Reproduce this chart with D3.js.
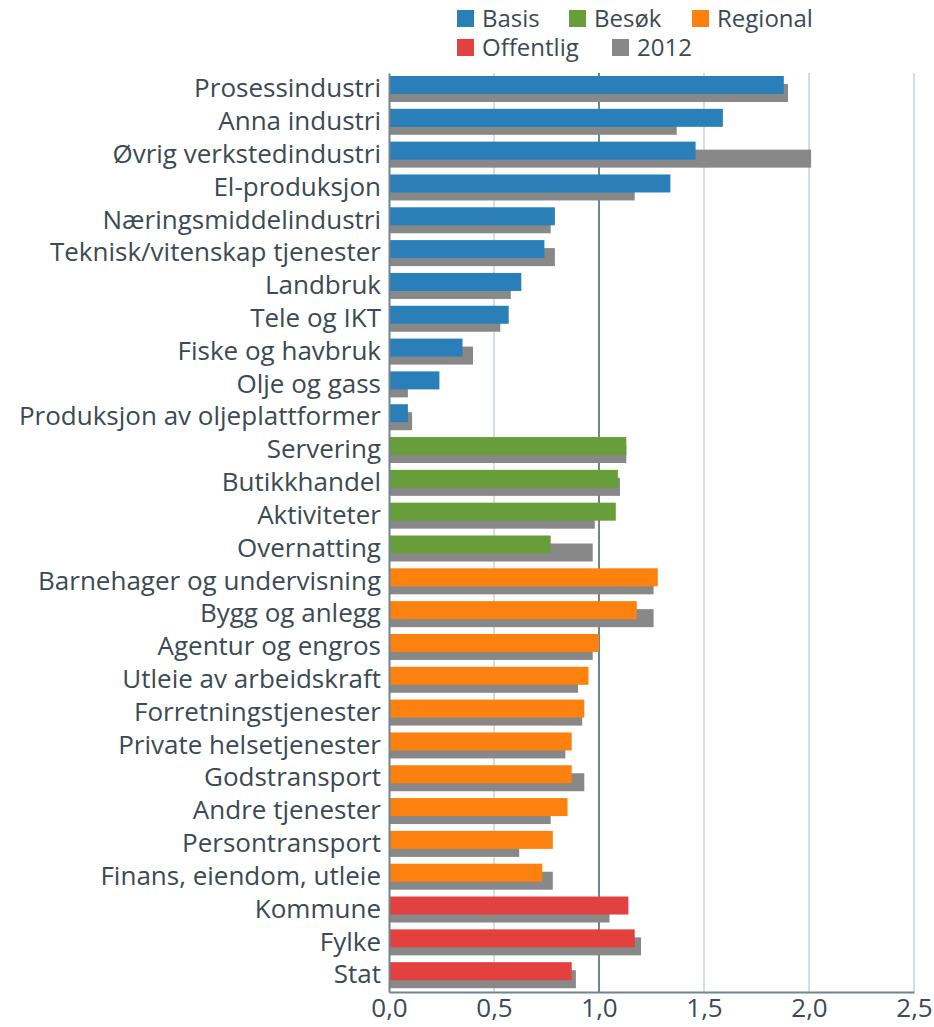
<!DOCTYPE html>
<html>
<head>
<meta charset="utf-8">
<script src="https://cdn.jsdelivr.net/npm/d3@7"></script>
<style>
  body { margin: 0; background: #fff; }
  svg { font-family: "Open Sans", sans-serif; }
</style>
</head>
<body>
<div id="chart"></div>
<script>
var categories = ["Prosessindustri", "Anna industri", "Øvrig verkstedindustri", "El-produksjon",
    "Næringsmiddelindustri", "Teknisk/vitenskap tjenester", "Landbruk", "Tele og IKT",
    "Fiske og havbruk", "Olje og gass", "Produksjon av oljeplattformer",
    "Servering", "Butikkhandel", "Aktiviteter", "Overnatting",
    "Barnehager og undervisning", "Bygg og anlegg", "Agentur og engros", "Utleie av arbeidskraft",
    "Forretningstjenester", "Private helsetjenester", "Godstransport", "Andre tjenester",
    "Persontransport", "Finans, eiendom, utleie",
    "Kommune", "Fylke", "Stat"];
var groups = ["Basis", "Basis", "Basis", "Basis", "Basis", "Basis", "Basis", "Basis", "Basis", "Basis", "Basis",
    "Besøk", "Besøk", "Besøk", "Besøk",
    "Regional", "Regional", "Regional", "Regional", "Regional", "Regional", "Regional", "Regional", "Regional", "Regional",
    "Offentlig", "Offentlig", "Offentlig"];
var values = [1.88, 1.59, 1.46, 1.34, 0.79, 0.74, 0.63, 0.57, 0.35, 0.24, 0.09,
    1.13, 1.09, 1.08, 0.77,
    1.28, 1.18, 1.00, 0.95, 0.93, 0.87, 0.87, 0.85, 0.78, 0.73,
    1.14, 1.17, 0.87];
var values2012 = [1.90, 1.37, 2.01, 1.17, 0.77, 0.79, 0.58, 0.53, 0.40, 0.09, 0.11,
    1.13, 1.10, 0.98, 0.97,
    1.26, 1.26, 0.97, 0.90, 0.92, 0.84, 0.93, 0.77, 0.62, 0.78,
    1.05, 1.20, 0.89];
var legendNames = ["Basis", "Besøk", "Regional", "Offentlig", "2012"];
var xTicks = [0, 0.5, 1, 1.5, 2, 2.5];

var colors = { "Basis": "#2a7fb8", "Besøk": "#679e3a", "Regional": "#fd810f", "Offentlig": "#e34040", "2012": "#888888" };
var textColor = "#3b4a53";
var fontSize = 26;

var W = 934, H = 1027;
var svg = d3.select("#chart").append("svg").attr("width", W).attr("height", H);

var x = d3.scaleLinear().domain([0, 2.5]).range([389, 914]);
var y = d3.scaleBand().domain(categories).range([73, 992]).padding(0);

// gridlines
svg.append("g").selectAll("line").data(xTicks.slice(1))
    .enter().append("line")
    .attr("x1", d => x(d)).attr("x2", d => x(d))
    .attr("y1", 73).attr("y2", 992)
    .attr("stroke", d => d === 1 ? "#6f8592" : "#c6d2da")
    .attr("stroke-width", d => d === 1 ? 2 : 1.5);

var rows = categories.map((c, i) => ({ name: c, group: groups[i], v: values[i], v0: values2012[i] }));

var plot = svg.append("g");
plot.selectAll("rect.y2012").data(rows).enter().append("rect")
    .attr("class", "y2012")
    .attr("x", x(0))
    .attr("y", d => y(d.name) + 11)
    .attr("width", d => x(d.v0) - x(0))
    .attr("height", 18)
    .attr("fill", colors["2012"]);
plot.selectAll("rect.cur").data(rows).enter().append("rect")
    .attr("class", "cur")
    .attr("x", x(0))
    .attr("y", d => y(d.name) + 3)
    .attr("width", d => x(d.v) - x(0))
    .attr("height", 18)
    .attr("fill", d => colors[d.group]);

// axes
var yAxis = d3.axisLeft(y).tickSize(0).tickPadding(8);
var yg = svg.append("g").attr("transform", `translate(${x(0)},0)`).call(yAxis);
yg.select(".domain").attr("stroke", "#6f8592").attr("stroke-width", 2);
yg.selectAll("text").attr("font-size", fontSize).attr("fill", textColor)
    .attr("font-family", "'Open Sans', sans-serif").attr("dy", "0.3em");

var xAxis = d3.axisBottom(x).tickValues(xTicks).tickSize(0).tickPadding(7)
    .tickFormat(d => d3.format(".1f")(d).replace(".", ","));
var xg = svg.append("g").attr("transform", "translate(0,992)").call(xAxis);
xg.select(".domain").attr("stroke", "#6f8592").attr("stroke-width", 2);
xg.selectAll("text").attr("font-size", fontSize).attr("fill", textColor)
    .attr("font-family", "'Open Sans', sans-serif");

// legend
var legendPos = [[457, 10], [569, 10], [692, 10], [457, 39], [612, 39]];
var lg = svg.append("g").selectAll("g").data(legendNames).enter().append("g")
    .attr("transform", (d, i) => `translate(${legendPos[i][0]},${legendPos[i][1]})`);
lg.append("rect").attr("width", 17).attr("height", 17).attr("fill", d => colors[d]);
lg.append("text").attr("x", 25).attr("y", 8.5).attr("dy", "0.35em")
    .attr("font-size", 24).attr("fill", textColor).text(d => d);
</script>
</body>
</html>
